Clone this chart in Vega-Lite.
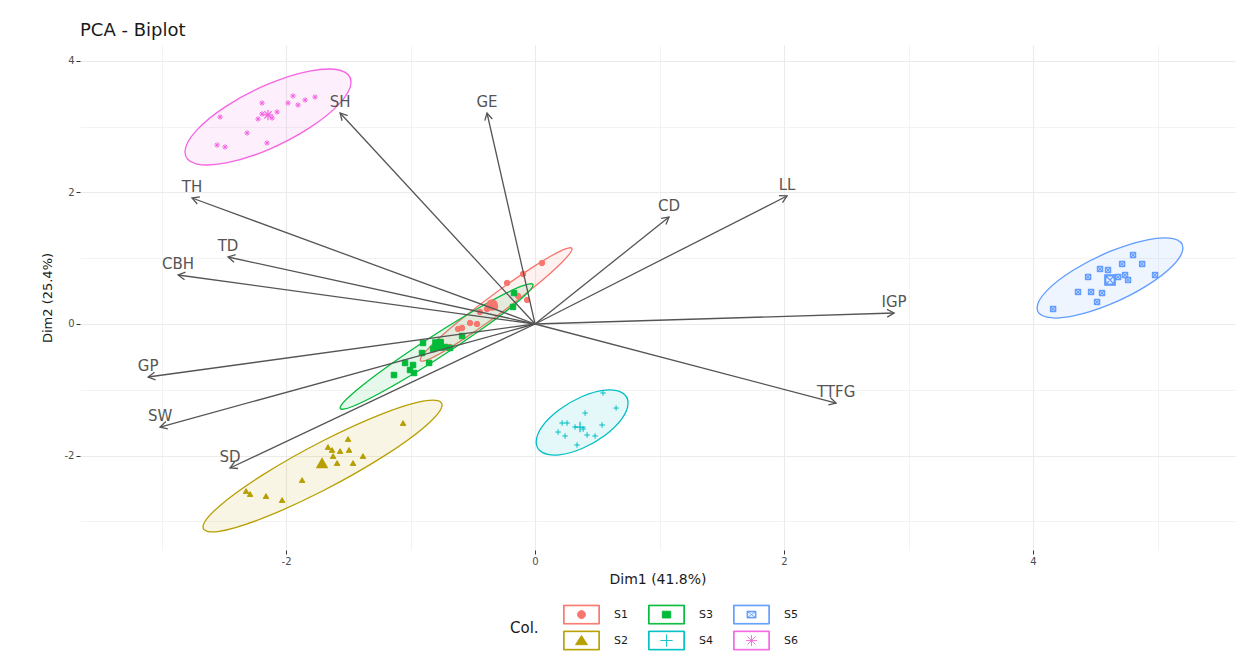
{
  "$schema": "https://vega.github.io/schema/vega-lite/v6.json",
  "autosize": {"type": "none"},
  "padding": {"left": 80, "top": 45, "right": 3, "bottom": 111},
  "width": 1155,
  "height": 505,
  "background": "white",
  "title": {"text": "PCA - Biplot", "anchor": "start", "frame": "group", "fontSize": 18, "font": "DejaVu Sans", "fontWeight": "normal", "color": "#1A1A1A", "offset": 5},
  "config": {
    "view": {"stroke": null},
    "axis": {
      "domain": false,
      "gridColor": "#EBEBEB",
      "tickColor": "#333333",
      "tickSize": 4,
      "labelFont": "DejaVu Sans",
      "labelFontSize": 10,
      "labelColor": "#4D4D4D",
      "titleFont": "DejaVu Sans",
      "titleFontWeight": "normal",
      "titleColor": "#1A1A1A"
    },
    "legend": {
      "titleFont": "DejaVu Sans",
      "titleFontSize": 15,
      "titleFontWeight": "normal",
      "titleColor": "#1A1A1A",
      "titlePadding": 32,
      "labelFont": "DejaVu Sans",
      "labelFontSize": 11,
      "labelColor": "#1A1A1A",
      "rowPadding": 3,
      "columnPadding": 18,
      "labelOffset": 22,
      "titleOrient": "left",
      "symbolOpacity": 1,
      "symbolStrokeWidth": 0.9
    }
  },
  "datasets": {
    "pts": [
      {"g": "S1", "x": 0.056, "y": 0.928}, {"g": "S1", "x": -0.096, "y": 0.760}, {"g": "S1", "x": -0.225, "y": 0.624},
      {"g": "S1", "x": -0.064, "y": 0.365}, {"g": "S1", "x": -0.442, "y": 0.183}, {"g": "S1", "x": -0.321, "y": 0.259},
      {"g": "S1", "x": -0.522, "y": 0.015}, {"g": "S1", "x": -0.466, "y": 0.000}, {"g": "S1", "x": -0.618, "y": -0.076},
      {"g": "S1", "x": -0.586, "y": -0.061}, {"g": "S1", "x": -0.683, "y": -0.350}, {"g": "S1", "x": -0.386, "y": 0.228},
      {"g": "S1", "x": -0.137, "y": 0.426},
      {"g": "S2", "x": -1.060, "y": -1.506}, {"g": "S2", "x": -1.502, "y": -1.749}, {"g": "S2", "x": -1.663, "y": -1.871},
      {"g": "S2", "x": -1.631, "y": -1.916}, {"g": "S2", "x": -1.566, "y": -1.932}, {"g": "S2", "x": -1.494, "y": -1.916},
      {"g": "S2", "x": -1.622, "y": -2.008}, {"g": "S2", "x": -1.382, "y": -2.008}, {"g": "S2", "x": -1.590, "y": -2.114},
      {"g": "S2", "x": -1.462, "y": -2.114}, {"g": "S2", "x": -1.871, "y": -2.373}, {"g": "S2", "x": -2.289, "y": -2.586},
      {"g": "S2", "x": -2.161, "y": -2.616}, {"g": "S2", "x": -2.032, "y": -2.677}, {"g": "S2", "x": -2.321, "y": -2.540},
      {"g": "S3", "x": -0.169, "y": 0.471}, {"g": "S3", "x": -0.177, "y": 0.259}, {"g": "S3", "x": -0.586, "y": -0.183},
      {"g": "S3", "x": -0.900, "y": -0.289}, {"g": "S3", "x": -0.723, "y": -0.350}, {"g": "S3", "x": -0.819, "y": -0.380},
      {"g": "S3", "x": -0.683, "y": -0.365}, {"g": "S3", "x": -0.908, "y": -0.441}, {"g": "S3", "x": -1.044, "y": -0.593},
      {"g": "S3", "x": -0.980, "y": -0.624}, {"g": "S3", "x": -1.004, "y": -0.700}, {"g": "S3", "x": -0.972, "y": -0.745},
      {"g": "S3", "x": -0.851, "y": -0.593}, {"g": "S3", "x": -1.133, "y": -0.776}, {"g": "S3", "x": -0.763, "y": -0.274},
      {"g": "S4", "x": 0.546, "y": -1.049}, {"g": "S4", "x": 0.651, "y": -1.278}, {"g": "S4", "x": 0.402, "y": -1.354},
      {"g": "S4", "x": 0.217, "y": -1.506}, {"g": "S4", "x": 0.257, "y": -1.506}, {"g": "S4", "x": 0.386, "y": -1.597},
      {"g": "S4", "x": 0.538, "y": -1.536}, {"g": "S4", "x": 0.185, "y": -1.643}, {"g": "S4", "x": 0.241, "y": -1.703},
      {"g": "S4", "x": 0.418, "y": -1.688}, {"g": "S4", "x": 0.482, "y": -1.703}, {"g": "S4", "x": 0.337, "y": -1.840},
      {"g": "S4", "x": 0.321, "y": -1.567},
      {"g": "S5", "x": 4.803, "y": 1.049}, {"g": "S5", "x": 4.715, "y": 0.913}, {"g": "S5", "x": 4.876, "y": 0.913},
      {"g": "S5", "x": 4.538, "y": 0.837}, {"g": "S5", "x": 4.602, "y": 0.821}, {"g": "S5", "x": 4.442, "y": 0.715},
      {"g": "S5", "x": 4.980, "y": 0.745}, {"g": "S5", "x": 4.739, "y": 0.745}, {"g": "S5", "x": 4.763, "y": 0.669},
      {"g": "S5", "x": 4.361, "y": 0.487}, {"g": "S5", "x": 4.466, "y": 0.487}, {"g": "S5", "x": 4.554, "y": 0.471},
      {"g": "S5", "x": 4.514, "y": 0.335}, {"g": "S5", "x": 4.161, "y": 0.228}, {"g": "S5", "x": 4.683, "y": 0.715},
      {"g": "S6", "x": -1.944, "y": 3.468}, {"g": "S6", "x": -1.767, "y": 3.452}, {"g": "S6", "x": -1.984, "y": 3.361},
      {"g": "S6", "x": -1.904, "y": 3.331}, {"g": "S6", "x": -2.193, "y": 3.361}, {"g": "S6", "x": -2.072, "y": 3.224},
      {"g": "S6", "x": -2.530, "y": 3.148}, {"g": "S6", "x": -2.313, "y": 2.905}, {"g": "S6", "x": -2.554, "y": 2.722},
      {"g": "S6", "x": -2.490, "y": 2.692}, {"g": "S6", "x": -2.153, "y": 2.753}, {"g": "S6", "x": -2.193, "y": 3.194},
      {"g": "S6", "x": -2.112, "y": 3.133}, {"g": "S6", "x": -2.225, "y": 3.118}, {"g": "S6", "x": -1.847, "y": 3.407}
    ],
    "means": [
      {"g": "S1", "x": -0.345, "y": 0.289},
      {"g": "S2", "x": -1.711, "y": -2.114},
      {"g": "S3", "x": -0.779, "y": -0.319},
      {"g": "S4", "x": 0.361, "y": -1.567},
      {"g": "S5", "x": 4.618, "y": 0.669},
      {"g": "S6", "x": -2.145, "y": 3.179}
    ],
    "ell": [
      {"g": "S1", "i": 0, "x": 0.297, "y": 1.141}, {"g": "S1", "i": 1, "x": 0.215, "y": 1.120}, {"g": "S1", "i": 2, "x": -0.008, "y": 0.877},
      {"g": "S1", "i": 3, "x": -0.313, "y": 0.480}, {"g": "S1", "i": 4, "x": -0.618, "y": 0.033}, {"g": "S1", "i": 5, "x": -0.841, "y": -0.342},
      {"g": "S1", "i": 6, "x": -0.923, "y": -0.547}, {"g": "S1", "i": 7, "x": -0.841, "y": -0.526}, {"g": "S1", "i": 8, "x": -0.618, "y": -0.283},
      {"g": "S1", "i": 9, "x": -0.313, "y": 0.114}, {"g": "S1", "i": 10, "x": -0.008, "y": 0.561}, {"g": "S1", "i": 11, "x": 0.215, "y": 0.936},
      {"g": "S2", "i": 0, "x": -0.747, "y": -1.232}, {"g": "S2", "i": 1, "x": -0.876, "y": -1.166}, {"g": "S2", "i": 2, "x": -1.227, "y": -1.367},
      {"g": "S2", "i": 3, "x": -1.707, "y": -1.780}, {"g": "S2", "i": 4, "x": -2.187, "y": -2.295}, {"g": "S2", "i": 5, "x": -2.538, "y": -2.774},
      {"g": "S2", "i": 6, "x": -2.667, "y": -3.088}, {"g": "S2", "i": 7, "x": -2.538, "y": -3.154}, {"g": "S2", "i": 8, "x": -2.187, "y": -2.953},
      {"g": "S2", "i": 9, "x": -1.707, "y": -2.540}, {"g": "S2", "i": 10, "x": -1.227, "y": -2.025}, {"g": "S2", "i": 11, "x": -0.876, "y": -1.546},
      {"g": "S3", "i": 0, "x": -0.016, "y": 0.593}, {"g": "S3", "i": 1, "x": -0.120, "y": 0.567}, {"g": "S3", "i": 2, "x": -0.404, "y": 0.297},
      {"g": "S3", "i": 3, "x": -0.791, "y": -0.144}, {"g": "S3", "i": 4, "x": -1.179, "y": -0.639}, {"g": "S3", "i": 5, "x": -1.462, "y": -1.053},
      {"g": "S3", "i": 6, "x": -1.566, "y": -1.277}, {"g": "S3", "i": 7, "x": -1.462, "y": -1.251}, {"g": "S3", "i": 8, "x": -1.179, "y": -0.981},
      {"g": "S3", "i": 9, "x": -0.791, "y": -0.540}, {"g": "S3", "i": 10, "x": -0.404, "y": -0.045}, {"g": "S3", "i": 11, "x": -0.120, "y": 0.369},
      {"g": "S4", "i": 0, "x": 0.747, "y": -1.201}, {"g": "S4", "i": 1, "x": 0.698, "y": -1.043}, {"g": "S4", "i": 2, "x": 0.563, "y": -1.007},
      {"g": "S4", "i": 3, "x": 0.378, "y": -1.103}, {"g": "S4", "i": 4, "x": 0.194, "y": -1.305}, {"g": "S4", "i": 5, "x": 0.058, "y": -1.557},
      {"g": "S4", "i": 6, "x": 0.009, "y": -1.795}, {"g": "S4", "i": 7, "x": 0.058, "y": -1.953}, {"g": "S4", "i": 8, "x": 0.194, "y": -1.989},
      {"g": "S4", "i": 9, "x": 0.378, "y": -1.893}, {"g": "S4", "i": 10, "x": 0.563, "y": -1.691}, {"g": "S4", "i": 11, "x": 0.698, "y": -1.439},
      {"g": "S5", "i": 0, "x": 5.204, "y": 1.156}, {"g": "S5", "i": 1, "x": 5.125, "y": 1.297}, {"g": "S5", "i": 2, "x": 4.911, "y": 1.277},
      {"g": "S5", "i": 3, "x": 4.618, "y": 1.103}, {"g": "S5", "i": 4, "x": 4.325, "y": 0.821}, {"g": "S5", "i": 5, "x": 4.111, "y": 0.507},
      {"g": "S5", "i": 6, "x": 4.032, "y": 0.244}, {"g": "S5", "i": 7, "x": 4.111, "y": 0.103}, {"g": "S5", "i": 8, "x": 4.325, "y": 0.123},
      {"g": "S5", "i": 9, "x": 4.618, "y": 0.297}, {"g": "S5", "i": 10, "x": 4.911, "y": 0.579}, {"g": "S5", "i": 11, "x": 5.125, "y": 0.893},
      {"g": "S6", "i": 0, "x": -1.478, "y": 3.680}, {"g": "S6", "i": 1, "x": -1.567, "y": 3.859}, {"g": "S6", "i": 2, "x": -1.812, "y": 3.846},
      {"g": "S6", "i": 3, "x": -2.145, "y": 3.647}, {"g": "S6", "i": 4, "x": -2.479, "y": 3.314}, {"g": "S6", "i": 5, "x": -2.723, "y": 2.937},
      {"g": "S6", "i": 6, "x": -2.812, "y": 2.616}, {"g": "S6", "i": 7, "x": -2.723, "y": 2.437}, {"g": "S6", "i": 8, "x": -2.479, "y": 2.450},
      {"g": "S6", "i": 9, "x": -2.145, "y": 2.649}, {"g": "S6", "i": 10, "x": -1.812, "y": 2.982}, {"g": "S6", "i": 11, "x": -1.567, "y": 3.359}
    ],
    "arrows": [
      {"v": "SH", "x": -1.566, "y": 3.209},
      {"v": "GE", "x": -0.386, "y": 3.209},
      {"v": "TH", "x": -2.755, "y": 1.916},
      {"v": "TD", "x": -2.466, "y": 1.019},
      {"v": "CBH", "x": -2.867, "y": 0.745},
      {"v": "CD", "x": 1.076, "y": 1.627},
      {"v": "LL", "x": 2.024, "y": 1.947},
      {"v": "IGP", "x": 2.884, "y": 0.167},
      {"v": "TTFG", "x": 2.418, "y": -1.202},
      {"v": "GP", "x": -3.108, "y": -0.806},
      {"v": "SW", "x": -3.012, "y": -1.567},
      {"v": "SD", "x": -2.450, "y": -2.190}
    ]
  },
  "encoding": {
    "x": {
      "field": "x", "type": "quantitative",
      "scale": {"domain": [-3.655, 5.622], "nice": false, "zero": false},
      "axis": {
        "title": "Dim1 (41.8%)", "titleFontSize": 14, "titlePadding": 6,
        "values": [-3, -2, -1, 0, 1, 2, 3, 4, 5],
        "labelExpr": "datum.value % 2 === 0 ? '' + datum.value : ''",
        "tickOpacity": {"condition": {"test": "datum.value % 2 !== 0", "value": 0}, "value": 1},
        "gridWidth": {"condition": {"test": "datum.value % 2 !== 0", "value": 0.6}, "value": 1.1}
      }
    },
    "y": {
      "field": "y", "type": "quantitative",
      "scale": {"domain": [-3.437, 4.243], "nice": false, "zero": false},
      "axis": {
        "title": "Dim2 (25.4%)", "titleFontSize": 13, "titlePadding": 10,
        "values": [-3, -2, -1, 0, 1, 2, 3, 4],
        "labelExpr": "datum.value % 2 === 0 ? '' + datum.value : ''",
        "tickOpacity": {"condition": {"test": "datum.value % 2 !== 0", "value": 0}, "value": 1},
        "gridWidth": {"condition": {"test": "datum.value % 2 !== 0", "value": 0.6}, "value": 1.1}
      }
    }
  },
  "layer": [
    {
      "data": {"name": "ell"},
      "mark": {"type": "line", "interpolate": "cardinal-closed", "strokeWidth": 1.3, "fillOpacity": 0.1},
      "encoding": {
        "order": {"field": "i", "type": "quantitative"},
        "stroke": {"field": "g", "type": "nominal",
          "scale": {"domain": ["S1", "S3", "S5", "S2", "S4", "S6"], "range": ["#F8766D", "#00BA38", "#619CFF", "#B79F00", "#00BFC4", "#F564E3"]},
          "legend": {"title": "Col.", "orient": "none", "legendX": 430, "legendY": 559, "direction": "horizontal", "columns": 3, "symbolSize": 400}},
        "fill": {"field": "g", "type": "nominal",
          "scale": {"domain": ["S1", "S3", "S5", "S2", "S4", "S6"], "range": ["#F8766D", "#00BA38", "#619CFF", "#B79F00", "#00BFC4", "#F564E3"]},
          "legend": {"title": "Col.", "orient": "none", "legendX": 430, "legendY": 559, "direction": "horizontal", "columns": 3, "symbolSize": 400}}
      }
    },
    {
      "data": {"name": "pts"},
      "mark": {"type": "point", "filled": true, "size": 30, "strokeWidth": 1, "opacity": 1,
        "shape": {"expr": "datum.g === 'S1' ? 'circle' : datum.g === 'S3' ? 'square' : datum.g === 'S5' ? 'M-1,-1H1V1H-1Z M-0.75,-0.75V0.75H0.75V-0.75Z M-1,-1L1,1 M-1,1L1,-1' : datum.g === 'S2' ? 'triangle-up' : datum.g === 'S4' ? 'M-1,0H1 M0,-1V1' : 'M-1,0H1 M0,-1V1 M-0.7,-0.7L0.7,0.7 M-0.7,0.7L0.7,-0.7'"}},
      "encoding": {
        "color": {"field": "g", "type": "nominal",
          "scale": {"domain": ["S1", "S3", "S5", "S2", "S4", "S6"], "range": ["#F8766D", "#00BA38", "#619CFF", "#B79F00", "#00BFC4", "#F564E3"]},
          "legend": {"title": "Col.", "orient": "none", "legendX": 430, "legendY": 559, "direction": "horizontal", "columns": 3, "symbolSize": 400}},
        "stroke": {"field": "g", "type": "nominal"}
      }
    },
    {
      "data": {"name": "means"},
      "mark": {"type": "point", "filled": true, "size": 110, "strokeWidth": 1.2, "opacity": 1,
        "shape": {"expr": "datum.g === 'S1' ? 'circle' : datum.g === 'S3' ? 'square' : datum.g === 'S5' ? 'M-1,-1H1V1H-1Z M-0.8,-0.8V0.8H0.8V-0.8Z M-1,-1L1,1 M-1,1L1,-1' : datum.g === 'S2' ? 'triangle-up' : datum.g === 'S4' ? 'M-1,0H1 M0,-1V1' : 'M-1,0H1 M0,-1V1 M-0.7,-0.7L0.7,0.7 M-0.7,0.7L0.7,-0.7'"}},
      "encoding": {
        "color": {"field": "g", "type": "nominal"},
        "stroke": {"field": "g", "type": "nominal"}
      }
    },
    {
      "data": {"name": "means"},
      "mark": {"type": "point", "filled": true, "size": 20, "opacity": 0},
      "encoding": {
        "color": {"field": "g", "type": "nominal"},
        "stroke": {"field": "g", "type": "nominal"},
        "shape": {"field": "g", "type": "nominal",
          "scale": {"domain": ["S1", "S3", "S5", "S2", "S4", "S6"], "range": [
            "M-1.8,-0.95H1.8V0.95H-1.8Z M-1.73,-0.88V0.88H1.73V-0.88Z M-0.4,0A0.4,0.4 0 1,0 0.4,0A0.4,0.4 0 1,0 -0.4,0Z",
            "M-1.8,-0.95H1.8V0.95H-1.8Z M-1.73,-0.88V0.88H1.73V-0.88Z M-0.42,-0.34H0.42V0.34H-0.42Z",
            "M-1.8,-0.95H1.8V0.95H-1.8Z M-1.73,-0.88V0.88H1.73V-0.88Z M-0.45,-0.34H0.45V0.34H-0.45Z M-0.38,-0.27V0.27H0.38V-0.27Z M-0.45,-0.34L0.45,0.34 M-0.45,0.34L0.45,-0.34",
            "M-1.8,-0.95H1.8V0.95H-1.8Z M-1.73,-0.88V0.88H1.73V-0.88Z M0,-0.5L0.6,0.42H-0.6Z",
            "M-1.8,-0.95H1.8V0.95H-1.8Z M-1.73,-0.88V0.88H1.73V-0.88Z M-0.62,0H0.62M0,-0.62V0.62",
            "M-1.8,-0.95H1.8V0.95H-1.8Z M-1.73,-0.88V0.88H1.73V-0.88Z M-0.55,0H0.55M0,-0.55V0.55M-0.4,-0.4L0.4,0.4M-0.4,0.4L0.4,-0.4"]},
          "legend": {"title": "Col.", "orient": "none", "legendX": 430, "legendY": 559, "direction": "horizontal", "columns": 3, "symbolSize": 400}}
      }
    },
    {
      "data": {"values": [{"z": 0}]},
      "mark": {"type": "rule", "color": "#333333", "strokeWidth": 2, "strokeDash": [10, 7]},
      "encoding": {"y": {"datum": 0}}
    },
    {
      "data": {"values": [{"z": 0}]},
      "mark": {"type": "rule", "color": "#111111", "strokeWidth": 2.5, "strokeDash": [3, 3]},
      "encoding": {"x": {"datum": 0}}
    },
    {
      "data": {"name": "arrows"},
      "mark": {"type": "rule", "color": "#555555", "strokeWidth": 1.3},
      "encoding": {
        "x": {"datum": 0}, "y": {"datum": 0},
        "x2": {"field": "x"}, "y2": {"field": "y"}
      }
    },
    {
      "data": {"name": "arrows"},
      "mark": {"type": "point", "shape": "M-0.55,1 L0,0 L0.55,1", "filled": false, "size": 196, "stroke": "#555555", "strokeWidth": 1.3, "opacity": 1,
        "angle": {"expr": "atan2(datum.x * 124.5, datum.y * 65.75) * 180 / PI"}},
      "encoding": {}
    },
    {
      "data": {"name": "arrows"},
      "mark": {"type": "text", "dy": -11, "font": "DejaVu Sans", "fontSize": 15, "color": "#555555"},
      "encoding": {"text": {"field": "v"}}
    }
  ]
}
